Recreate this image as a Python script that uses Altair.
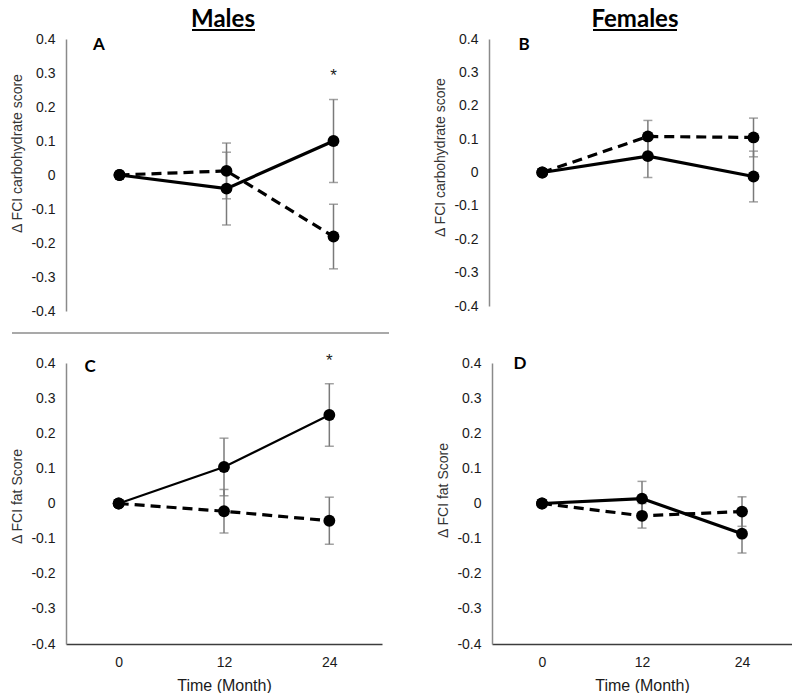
import altair as alt
import pandas as pd

months = ["0", "12", "24"]

# Panel A: males, carbohydrate
a_solid = [0.0, -0.040, 0.100]
a_solid_err = [0.0, 0.107, 0.122]
a_dashed = [0.0, 0.012, -0.181]
a_dashed_err = [0.0, 0.082, 0.095]

# Panel B: females, carbohydrate
b_solid = [0.0, 0.049, -0.012]
b_solid_err = [0.0, 0.064, 0.076]
b_dashed = [0.0, 0.108, 0.105]
b_dashed_err = [0.0, 0.048, 0.058]

# Panel C: males, fat
c_solid = [0.0, 0.104, 0.252]
c_solid_err = [0.0, 0.082, 0.089]
c_dashed = [0.0, -0.022, -0.049]
c_dashed_err = [0.0, 0.062, 0.067]

# Panel D: females, fat
d_solid = [0.0, 0.014, -0.086]
d_solid_err = [0.0, 0.049, 0.055]
d_dashed = [0.0, -0.035, -0.023]
d_dashed_err = [0.0, 0.035, 0.042]

# significance markers
a_star_month = ["24"]
a_star_value = [0.300]
c_star_month = ["24"]
c_star_value = [0.415]

y_ticks = [-0.4, -0.3, -0.2, -0.1, 0, 0.1, 0.2, 0.3, 0.4]

GRAY = "#7a7a7a"
LABEL_EXPR = ("datum.value == 0 ? '0' : (datum.value < 0 ? '-' + format(abs(datum.value), '.1f') "
              ": format(datum.value, '.1f'))")
YSCALE = alt.Scale(domain=[-0.4, 0.4], nice=False, zero=False)


def build_df(solid, solid_err, dashed, dashed_err):
    rows = []
    for s, vals, errs in (("solid", solid, solid_err), ("dashed", dashed, dashed_err)):
        for m, v, e in zip(months, vals, errs):
            rows.append(dict(month=m, value=v, series=s, lo=v - e, hi=v + e))
    return pd.DataFrame(rows)


def dummy():
    return pd.DataFrame({"k": [0]})


def make_yaxis(ytitle, title_y):
    return alt.Axis(title=ytitle, values=y_ticks, labelExpr=LABEL_EXPR, labelOverlap=False,
                    domainColor="#8a8a8a", domainWidth=1.5, ticks=False, grid=False,
                    labelFont="Liberation Sans", labelFontSize=14, labelColor="#1a1a1a",
                    labelPadding=11, titleFont="Liberation Sans", titleFontSize=14,
                    titleFontWeight="normal", titleColor="#333333", titlePadding=6,
                    titleY=title_y)


def make_xaxis(bottom):
    if not bottom:
        return None
    return alt.Axis(title="Time (Month)", domainColor="#3c3c3c", domainWidth=1.5,
                    ticks=False, grid=False, labelAngle=0, labelOverlap=False,
                    labelFont="Liberation Sans", labelFontSize=14, labelColor="#1a1a1a",
                    labelPadding=11, titleFont="Liberation Sans", titleFontSize=16,
                    titleFontWeight="normal", titleColor="#1a1a1a", titlePadding=8)


def panel(df, w, h, letter, letter_xy, ytitle, title_y, bottom, lw_solid=3.2, star=None,
          extras=(), xpad=0.5, xalign=0.5):
    yaxis = make_yaxis(ytitle, title_y)
    xscale = alt.Scale(type="point", domain=months, padding=xpad, align=xalign)
    x = alt.X("month:N", scale=xscale, axis=make_xaxis(bottom), sort=months)

    def Y(field):
        return alt.Y(field, scale=YSCALE, axis=yaxis, title=ytitle)

    base = alt.Chart(df)
    err = base.transform_filter("datum.hi > datum.lo").mark_rule(
        color=GRAY, strokeWidth=1.5).encode(x=x, y=Y("lo:Q"), y2="hi:Q")
    caps = base.transform_filter("datum.hi > datum.lo").transform_fold(
        ["lo", "hi"], as_=["k", "v"]).mark_tick(
        color=GRAY, thickness=1.5, size=9, orient="horizontal").encode(x=x, y=Y("v:Q"))
    solid = base.transform_filter("datum.series == 'solid'").mark_line(
        color="black", strokeWidth=lw_solid).encode(x=x, y=Y("value:Q"))
    dashed = base.transform_filter("datum.series == 'dashed'").mark_line(
        color="black", strokeWidth=3.2, strokeDash=[10, 6]).encode(x=x, y=Y("value:Q"))
    pts = base.mark_circle(size=140, color="black", opacity=1).encode(x=x, y=Y("value:Q"))
    lab = alt.Chart(dummy()).mark_text(
        text=letter, font="Lato", fontWeight="bold", fontSize=17, color="black",
        align="center", baseline="middle").encode(
        x=alt.value(letter_xy[0]), y=alt.value(letter_xy[1]))
    layers = [err, caps, dashed, solid, pts, lab]
    if star is not None:
        sdf = pd.DataFrame({"month": star[0], "value": star[1], "t": ["*"] * len(star[1])})
        layers.append(alt.Chart(sdf).mark_text(
            fontSize=17, font="Liberation Sans", color="#222", baseline="middle", dy=3).encode(
            x=x, y=Y("value:Q"), text="t:N"))
    layers += list(extras)
    return alt.layer(*layers).properties(width=w, height=h)


def heading(txt, cx, x1, x2):
    t = alt.Chart(dummy()).mark_text(
        text=txt, font="Lato", fontWeight="bold", fontSize=24, color="black",
        align="center", baseline="alphabetic").encode(x=alt.value(cx), y=alt.value(-12))
    u = alt.Chart(dummy()).mark_rule(color="black", strokeWidth=2).encode(
        x=alt.value(x1), x2=alt.value(x2), y=alt.value(-9))
    return [t, u]


sep = alt.Chart(dummy()).mark_rule(color="#555555", strokeWidth=1.2).encode(
    x=alt.value(-54), x2=alt.value(323), y=alt.value(294))

pA = panel(build_df(a_solid, a_solid_err, a_dashed, a_dashed_err), 321, 272, "A", (33, 6),
           "\u0394 FCI carbohydrate score", 114, False, star=(a_star_month, a_star_value),
           extras=[sep] + heading("Males", 157, 126, 189))
pB = panel(build_df(b_solid, b_solid_err, b_dashed, b_dashed_err), 300, 267, "B", (35, 6),
           "\u0394 FCI carbohydrate score", 118, False, xpad=0.42, xalign=0.6,
           extras=heading("Females", 146, 104, 188))
pC = panel(build_df(c_solid, c_solid_err, c_dashed, c_dashed_err), 316, 281, "C", (24, 4),
           "\u0394 FCI fat Score", 133, True, lw_solid=2.2, star=(c_star_month, c_star_value))
pD = panel(build_df(d_solid, d_solid_err, d_dashed, d_dashed_err), 300, 281, "D", (28, 1),
           "\u0394 FCI fat Score", 127, True)

top = alt.hconcat(pA, pB, spacing=43)
bottom = alt.hconcat(pC, pD, spacing=54)
chart = alt.vconcat(top, bottom, spacing=17).properties(
    padding={"left": 2, "top": 0, "right": 0, "bottom": 0}
).configure_view(stroke=None)

chart.save("out.html", embed_options={"renderer": "svg", "actions": False})
